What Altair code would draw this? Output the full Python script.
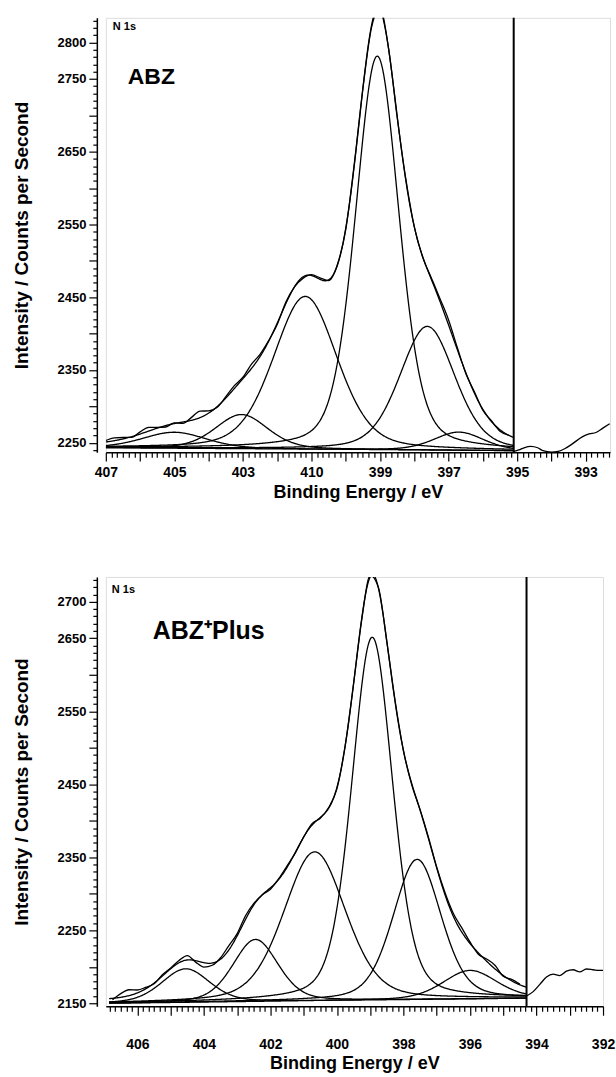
import altair as alt
import numpy as np
import pandas as pd

FONT = "Liberation Sans"

# ---------------- top panel (ABZ) ----------------
top_x_domain = [392.29, 407.0]
top_y_domain = [2237, 2834]
top_cut = 395.1
top_base_E = [395.1, 407.0]
top_base_I = [2239, 2243]
top_centers = [399.08, 401.18, 397.62, 403.04, 405.0, 396.7]
top_heights = [541, 210, 170, 47, 22, 25]
top_fwhm = [1.5, 2.2, 1.9, 1.8, 2.2, 1.7]
top_res_start = 407.0
top_residuals = [2, 4, 2, -1, 3, 5, 1, -2, 1, -2, 4, 9, 3, -1, 2, 4, 2, 6, 3, 1,
                 -2, 2, 0, -2, 1, 2, -1, 1, -2, 2, 0, -3, 2, 1, -2, 2, 0, -1, 2, 4,
                 7, 3, -1, 2, -1, 1, -2, 0]
top_tail_E = [395.1, 394.95, 394.8, 394.6, 394.4, 394.25, 394.0, 393.8, 393.6, 393.4,
              393.1, 392.9, 392.7, 392.5, 392.3]
top_tail_I = [2238, 2240, 2243, 2245, 2243, 2239, 2237, 2238, 2242, 2248,
              2258, 2262, 2264, 2270, 2276]
top_y_labels = [2250, 2350, 2450, 2550, 2650, 2750, 2800]
top_x_labels = [407, 405, 403, 401, 399, 397, 395, 393]
top_x_label_text = ["407", "405", "403", "410", "399", "397", "395", "393"]

# ---------------- bottom panel (ABZ+Plus) ----------------
bot_x_domain = [392.0, 406.95]
bot_y_domain = [2146, 2734]
bot_cut = 394.3
bot_base_E = [394.3, 406.85]
bot_base_I = [2157, 2150]
bot_centers = [398.94, 400.67, 397.59, 402.45, 404.55, 396.0]
bot_heights = [497, 204, 192, 85, 46, 39]
bot_fwhm = [1.45, 2.2, 1.7, 1.6, 1.7, 1.9]
bot_res_start = 406.75
bot_residuals = [-2, 5, 8, 4, 2, -1, 2, 1, 3, 6, -2, -6, -3, 2, 6, 3, 5, 2, 0, -2,
                 1, 2, -1, 0, 2, -1, 1, -2, 1, 0, -2, 2, 1, -1, 2, 0, -2, 1, 2, 1,
                 3, 4, 6, 2, -2, 3, 5, -1, 2, 1]
bot_tail_E = [394.3, 394.1, 393.9, 393.7, 393.5, 393.3, 393.1, 392.9, 392.7, 392.5,
              392.3, 392.1, 392.0]
bot_tail_I = [2160, 2166, 2176, 2186, 2190, 2188, 2194, 2196, 2193, 2197,
              2196, 2195, 2195]
bot_y_labels = [2150, 2250, 2350, 2450, 2550, 2650, 2700]
bot_x_labels = [406, 404, 402, 400, 398, 396, 394, 392]
bot_x_label_text = ["406", "404", "402", "400", "398", "396", "394", "392"]


def gl(E, c, h, w, m=0.3):
    d = (E - c) / w
    return h * ((1 - m) * np.exp(-4 * np.log(2) * d ** 2) + m / (1 + 4 * d ** 2))


def build_df(cut, base_E, base_I, centers, heights, fwhm, res_start, residuals,
             tail_E, tail_I, start):
    rows = []
    grid = np.linspace(cut, start, 500)
    base = np.interp(grid, base_E, base_I)
    total = base.copy()
    for k, (c, h, w) in enumerate(zip(centers, heights, fwhm)):
        comp = gl(grid, c, h, w)
        total = total + comp
        for e, v in zip(grid, base + comp):
            rows.append({"E": e, "I": v, "s": f"c{k}"})
    for e, v in zip(grid, total):
        rows.append({"E": e, "I": v, "s": "fit"})
    res_E = res_start - 0.25 * np.arange(len(residuals))
    res_base = np.interp(res_E, base_E, base_I)
    res_fit = res_base + sum(gl(res_E, c, h, w) for c, h, w in zip(centers, heights, fwhm))
    for e, v, r in zip(res_E, res_fit, residuals):
        rows.append({"E": e, "I": v + r, "s": "raw"})
    for e, v in zip(tail_E, tail_I):
        rows.append({"E": e, "I": v, "s": "tail"})
    return pd.DataFrame(rows)


def panel(df, cut, xdom, ydom, xlabels, xlabel_text, ylabels, width, height,
          xlabelpad, xtitlepad, name, name_x, name_y, name_size, n1s_x, n1s_y):
    lo = int(np.floor(xdom[0]))
    xvals = []
    for n in range(lo, int(np.ceil(xdom[1])) + 1):
        for j in range(6):
            v = n + j / 6.0
            if xdom[0] - 1e-6 <= v <= xdom[1] + 1e-6:
                xvals.append(round(v, 5))
    mapping = " : ".join(
        f"datum.value == {v} ? '{t}'" for v, t in zip(xlabels, xlabel_text)
    ) + " : ''"
    yvals = [v for v in range(int(np.ceil(ydom[0] / 10) * 10), int(ydom[1]) + 1, 10)]
    ylist = ",".join(str(v) for v in ylabels)

    xaxis = alt.Axis(
        values=xvals, labelExpr=mapping, labelOverlap=False, labelFlush=False,
        tickSize={"condition": {"test": "datum.value == round(datum.value)", "value": 9}, "value": 5},
        labelPadding=xlabelpad, titlePadding=xtitlepad, grid=False,
        labelFontSize=14, labelFont=FONT, labelFontWeight="bold",
        titleFontSize=18, titleFont=FONT, titleFontWeight="bold",
        domainColor="black", tickColor="black", domainWidth=1.5, tickWidth=1.2,
        labelColor="black", titleColor="black",
    )
    yaxis = alt.Axis(
        values=yvals,
        labelExpr=f"indexof([{ylist}], datum.value) >= 0 ? toString(datum.value) : ''",
        labelOverlap=False, labelFlush=False, offset=9,
        tickSize={"condition": {"test": "datum.value % 50 == 0", "value": 8}, "value": 4},
        labelPadding=3, titlePadding=26, grid=False,
        labelFontSize=13, labelFont=FONT, labelFontWeight="bold",
        titleFontSize=19, titleFont=FONT, titleFontWeight="bold",
        domainColor="black", tickColor="black", domainWidth=1.5, tickWidth=1.2,
        labelColor="black", titleColor="black",
    )
    xs = alt.Scale(domain=xdom, reverse=True, nice=False, zero=False)
    ys = alt.Scale(domain=ydom, nice=False, zero=False)
    xenc = alt.X("E:Q", scale=xs, axis=xaxis, title="Binding Energy / eV")

    lines = alt.Chart(df).mark_line(
        color="black", strokeWidth=1.3, clip=True, interpolate="monotone"
    ).encode(
        x=xenc,
        y=alt.Y("I:Q", scale=ys, axis=yaxis, title="Intensity / Counts per Second"),
        detail="s:N",
    )
    rule = alt.Chart(pd.DataFrame({"E": [cut]})).mark_rule(
        color="black", strokeWidth=2
    ).encode(x=xenc)
    t1 = alt.Chart(pd.DataFrame({"t": ["N 1s"]})).mark_text(
        align="left", baseline="alphabetic", fontSize=11, fontWeight="bold",
        font=FONT, color="black"
    ).encode(x=alt.value(n1s_x), y=alt.value(n1s_y), text="t:N")
    t2 = alt.Chart(pd.DataFrame({"t": [name]})).mark_text(
        align="left", baseline="alphabetic", fontSize=name_size, fontWeight="bold",
        font=FONT, color="black"
    ).encode(x=alt.value(name_x), y=alt.value(name_y), text="t:N")
    return alt.layer(lines, rule, t1, t2).properties(width=width, height=height)


top_df = build_df(top_cut, top_base_E, top_base_I, top_centers, top_heights, top_fwhm,
                  top_res_start, top_residuals, top_tail_E, top_tail_I, 407.0)
bot_df = build_df(bot_cut, bot_base_E, bot_base_I, bot_centers, bot_heights, bot_fwhm,
                  bot_res_start, bot_residuals, bot_tail_E, bot_tail_I, 406.85)

top = panel(top_df, top_cut, top_x_domain, top_y_domain, top_x_labels, top_x_label_text,
            top_y_labels, 505, 435, 4, 4, "ABZ", 22, 66, 23, 7, 12)
bot = panel(bot_df, bot_cut, bot_x_domain, bot_y_domain, bot_x_labels, bot_x_label_text,
            bot_y_labels, 498, 430, 22, 3, "ABZ\u207aPlus", 47, 62, 25, 6, 16)

chart = alt.vconcat(top, bot, spacing=71).properties(
    padding={"left": 11, "top": 13, "right": 0, "bottom": 0}
).configure_view(stroke="black", strokeWidth=1.5).configure(background="white")

chart.save("out.html", embed_options={"renderer": "svg", "actions": False})
